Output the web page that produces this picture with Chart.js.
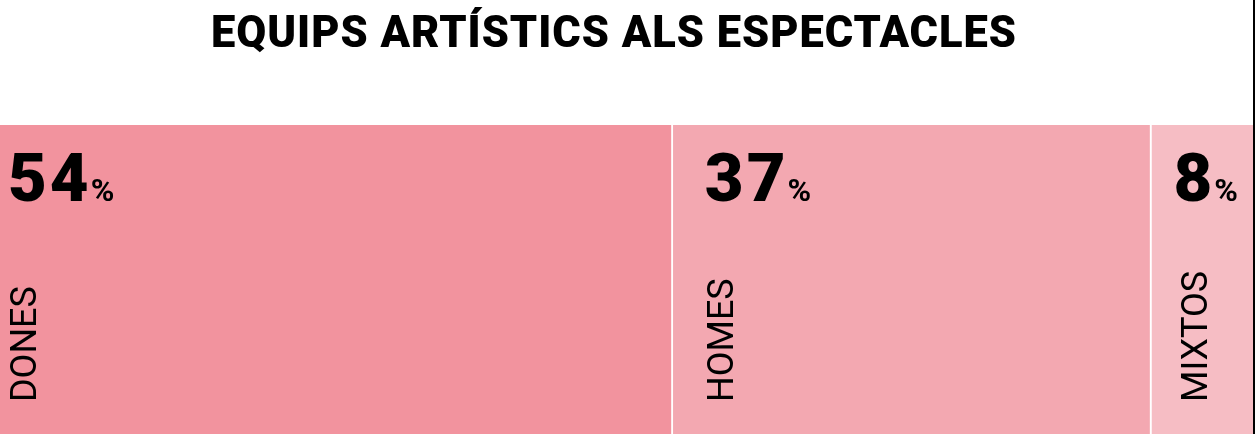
<!DOCTYPE html>
<html>
<head>
<meta charset="utf-8">
<script src="https://cdn.jsdelivr.net/npm/chart.js@4/dist/chart.umd.min.js"></script>
<style>
  html, body { margin: 0; padding: 0; background: #ffffff; }
  #wrap { position: relative; width: 1253px; height: 434px; border-right: 2px solid #000; }
  canvas { display: block; }
</style>
</head>
<body>
<div id="wrap"><canvas id="c" width="1253" height="434"></canvas></div>
<script>
// ---- data ----
const title = 'EQUIPS ARTÍSTICS ALS ESPECTACLES';
const categories = ['DONES', 'HOMES', 'MIXTOS'];
const shares = [53.7, 38.2, 8.1];          // measured bar widths (% of total)
const pctLabels = ['54', '37', '8'];      // printed percentages
const colors = ['#F2939E', '#F3A8B1', '#F6BDC4'];

const FONT = 'Roboto, "DejaVu Sans", sans-serif';

const textPlugin = {
  id: 'textPlugin',
  afterDraw(chart) {
    const ctx = chart.ctx;
    ctx.save();
    ctx.fillStyle = '#000';
    ctx.textBaseline = 'alphabetic';
    ctx.textAlign = 'left';
    // title
    ctx.font = '900 45px ' + FONT;
    ctx.letterSpacing = '1px';
    const tw = ctx.measureText(title).width;
    const target = 806;
    ctx.save();
    ctx.translate(614 - target / 2, 47);
    ctx.scale(target / tw, 1);
    ctx.fillText(title, 0, 0);
    ctx.restore();

    const numPad = [8, 32, 22];
    const labPad = [36, 60, 55];
    chart.data.datasets.forEach((ds, i) => {
      const el = chart.getDatasetMeta(i).data[0];
      const left = Math.min(el.x, el.base);
      // big number
      ctx.font = '900 67px ' + FONT;
      ctx.letterSpacing = '3px';
      const num = pctLabels[i];
      const nw = ctx.measureText(num).width;
      ctx.fillText(num, left + numPad[i], 201);
      ctx.font = 'bold 32px ' + FONT;
      ctx.letterSpacing = '0px';
      ctx.fillText('%', left + numPad[i] + nw - 1, 201);
      // vertical label
      ctx.save();
      ctx.font = '36px ' + FONT;
      ctx.translate(left + labPad[i], 402);
      ctx.rotate(-Math.PI / 2);
      ctx.fillText(categories[i], 0, 0);
      ctx.restore();
    });
    ctx.restore();
  }
};

new Chart(document.getElementById('c'), {
  type: 'bar',
  data: {
    labels: [''],
    datasets: categories.map((c, i) => ({
      label: c,
      data: [shares[i]],
      backgroundColor: colors[i],
      borderColor: '#ffffff',
      borderWidth: i < categories.length - 1 ? { right: 2, left: 0, top: 0, bottom: 0 } : 0,
      borderSkipped: false,
      categoryPercentage: 1,
      barPercentage: 1
    }))
  },
  options: {
    indexAxis: 'y',
    responsive: false,
    animation: false,
    events: [],
    layout: { padding: { top: 125, left: 0, right: 0, bottom: 0 } },
    plugins: { legend: { display: false }, tooltip: { enabled: false }, title: { display: false } },
    scales: {
      x: { stacked: true, display: false, min: 0, max: 100 },
      y: { stacked: true, display: false }
    }
  },
  plugins: [textPlugin]
});
</script>
</body>
</html>
